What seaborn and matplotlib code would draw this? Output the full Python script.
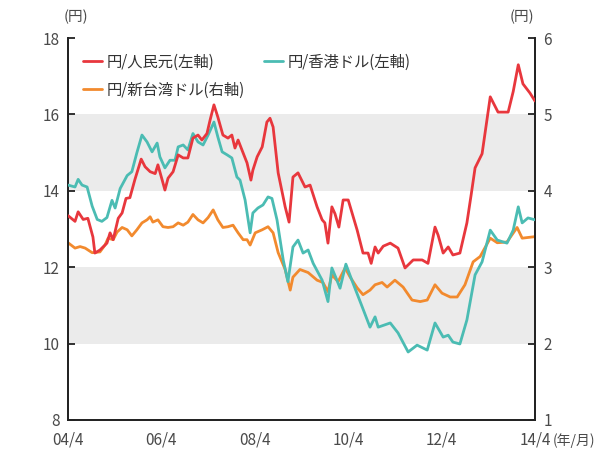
import numpy as np
import pandas as pd
import matplotlib
matplotlib.use("Agg")
import matplotlib.pyplot as plt
import seaborn as sns

# x values: months since 2004/4
cny_x = [0.0, 1.8, 2.6, 3.9, 5.1, 6.4, 6.9, 8.2, 10.0, 10.8, 11.6, 12.9, 13.9, 14.9, 15.9,
         17.2, 18.8, 19.8, 21.1, 22.4, 23.1, 24.2, 24.9, 25.7, 27.0, 28.3, 29.6, 30.8, 32.1,
         33.4, 34.4, 35.7, 36.5, 37.5, 38.5, 39.8, 41.1, 42.1, 42.9, 43.7, 45.0, 46.0, 47.0,
         47.5, 48.6, 49.9, 51.1, 51.9, 52.7, 54.0, 55.8, 56.8, 57.8, 59.1, 60.9, 62.2, 64.0,
         65.3, 66.0, 66.8, 67.8, 68.6, 69.6, 70.7, 72.0, 74.3, 75.8, 77.1, 77.9, 78.9, 79.7,
         81.0, 82.8, 84.8, 86.6, 88.7, 91.0, 92.5, 94.3, 95.1, 96.4, 97.7, 98.9, 100.7, 102.5,
         103.6, 104.6, 106.4, 108.5, 110.5, 113.1, 114.4, 115.7, 116.9, 118.7, 120.0]
cny_y = [13.35, 13.20, 13.45, 13.25, 13.28, 12.79, 12.37, 12.45, 12.63, 12.90, 12.72, 13.28,
         13.42, 13.80, 13.82, 14.30, 14.83, 14.63, 14.50, 14.45, 14.68, 14.28, 14.02, 14.33,
         14.50, 14.94, 14.86, 14.86, 15.38, 15.46, 15.33, 15.50, 15.85, 16.25, 15.93, 15.46,
         15.38, 15.46, 15.12, 15.33, 14.99, 14.73, 14.28, 14.54, 14.89, 15.15, 15.80, 15.90,
         15.67, 14.47, 13.58, 13.18, 14.36, 14.47, 14.10, 14.15, 13.58, 13.24, 13.16, 12.63,
         13.58, 13.40, 13.05, 13.76, 13.76, 12.97, 12.37, 12.37, 12.10, 12.53, 12.37, 12.55,
         12.63, 12.50, 11.98, 12.19, 12.19, 12.10, 13.05, 12.84, 12.37, 12.53, 12.32, 12.37,
         13.16, 13.90, 14.60, 14.97, 16.46, 16.06, 16.06, 16.60, 17.30, 16.80, 16.56, 16.35]

hkd_x = [0.0, 1.8, 2.6, 3.6, 4.9, 6.2, 7.5, 8.7, 10.0, 11.3, 12.1, 13.4, 15.2, 16.4, 17.7,
         19.0, 20.3, 21.6, 22.9, 23.6, 24.9, 26.2, 27.5, 28.3, 29.6, 30.8, 32.1, 33.4, 34.7,
         36.0, 37.5, 38.5, 39.6, 40.9, 42.1, 43.4, 44.2, 45.5, 46.8, 47.5, 48.8, 50.1, 51.4,
         52.4, 53.7, 55.3, 56.5, 57.8, 59.1, 60.4, 61.7, 63.0, 65.3, 66.8, 67.8, 69.1, 69.9,
         71.4, 73.2, 75.6, 77.6, 78.9, 79.7, 82.8, 84.8, 87.4, 89.7, 92.3, 94.3, 96.4, 97.7,
         98.9, 100.7, 102.5, 104.6, 106.4, 108.5, 110.3, 112.8, 114.4, 115.7, 116.7, 118.2, 120.0]
hkd_y = [14.15, 14.10, 14.30, 14.15, 14.10, 13.60, 13.25, 13.20, 13.30, 13.75, 13.55, 14.06,
         14.40, 14.50, 15.00, 15.46, 15.28, 15.02, 15.25, 14.89, 14.60, 14.80, 14.80, 15.15,
         15.20, 15.07, 15.50, 15.28, 15.20, 15.46, 15.80, 15.41, 15.02, 14.94, 14.86, 14.36,
         14.28, 13.76, 12.90, 13.42, 13.55, 13.63, 13.84, 13.80, 13.24, 12.19, 11.62, 12.53,
         12.71, 12.37, 12.45, 12.10, 11.66, 11.10, 11.98, 11.66, 11.45, 12.08, 11.59, 10.96,
         10.43, 10.70, 10.43, 10.54, 10.28, 9.78, 9.96, 9.83, 10.54, 10.17, 10.22, 10.04, 9.99,
         10.62, 11.80, 12.14, 12.97, 12.71, 12.63, 12.97, 13.58, 13.16, 13.29, 13.24]

twd_x = [0.0, 1.8, 3.1, 4.4, 6.2, 8.2, 9.5, 10.3, 11.6, 12.6, 13.9, 15.2, 16.4, 17.7, 19.0,
         20.3, 21.1, 21.8, 23.1, 24.4, 25.7, 27.0, 28.3, 29.6, 30.8, 32.1, 33.4, 34.7, 36.0,
         37.3, 38.5, 39.8, 41.1, 42.4, 43.7, 45.0, 46.0, 46.8, 48.1, 49.9, 51.4, 52.7, 54.0,
         55.8, 57.1, 57.8, 59.6, 61.7, 64.0, 65.5, 66.8, 67.8, 69.4, 71.2, 72.5, 74.3, 75.8,
         77.6, 78.9, 80.7, 82.0, 84.0, 86.1, 88.4, 90.5, 92.3, 94.3, 96.1, 98.2, 100.0, 102.0,
         104.1, 105.9, 108.5, 110.3, 112.8, 115.4, 116.7, 120.0]
twd_y = [3.32, 3.25, 3.27, 3.25, 3.19, 3.20, 3.29, 3.38, 3.36, 3.46, 3.52, 3.49, 3.41, 3.49,
         3.58, 3.62, 3.66, 3.59, 3.62, 3.53, 3.52, 3.53, 3.58, 3.55, 3.59, 3.69, 3.62, 3.58,
         3.65, 3.75, 3.62, 3.52, 3.53, 3.55, 3.45, 3.36, 3.36, 3.29, 3.45, 3.49, 3.53, 3.45,
         3.19, 2.97, 2.70, 2.87, 2.97, 2.93, 2.83, 2.80, 2.68, 2.90, 2.81, 2.99, 2.87, 2.73,
         2.64, 2.70, 2.77, 2.80, 2.74, 2.83, 2.74, 2.57, 2.55, 2.57, 2.77, 2.66, 2.61, 2.61,
         2.77, 3.07, 3.14, 3.38, 3.32, 3.33, 3.52, 3.38, 3.40]

x_ticks = [0, 24, 48, 72, 96, 120]
x_labels = ["04/4", "06/4", "08/4", "10/4", "12/4", "14/4"]
left_ticks = [8, 10, 12, 14, 16, 18]
right_ticks = [1, 2, 3, 4, 5, 6]
bands_right = [(2, 3), (4, 5)]   # shaded ranges, right-axis units (= 10-12, 14-16 left)

RED = "#e8373d"
TEAL = "#4bbcb3"
ORANGE = "#f28a2e"
TXT = "#4a4a4a"

sns.set_style("white")
plt.rcParams["font.family"] = ["Noto Sans CJK JP", "DejaVu Sans"]

fig = plt.figure(figsize=(6.09, 4.57), dpi=100)
ax = fig.add_axes([0.1117, 0.081, 0.7668, 0.8358])
ax2 = ax.twinx()

# shaded bands go on the lower axes so nothing is hidden
for lo, hi in bands_right:
    ax2.axhspan(lo, hi, color="#ebebeb", zorder=0, lw=0)

cny = pd.DataFrame({"m": cny_x, "v": cny_y})
hkd = pd.DataFrame({"m": hkd_x, "v": hkd_y})
twd = pd.DataFrame({"m": twd_x, "v": twd_y})

sns.lineplot(data=twd, x="m", y="v", ax=ax2, color=ORANGE, lw=2.0, estimator=None,
             label="円/新台湾ドル(右軸)", zorder=2)
sns.lineplot(data=hkd, x="m", y="v", ax=ax, color=TEAL, lw=2.0, estimator=None,
             label="円/香港ドル(左軸)", zorder=3)
sns.lineplot(data=cny, x="m", y="v", ax=ax, color=RED, lw=2.0, estimator=None,
             label="円/人民元(左軸)", zorder=4)

ax.set_zorder(ax2.get_zorder() + 1)
ax.patch.set_visible(False)

ax.set_xlim(0, 120)
ax.set_ylim(8, 18)
ax2.set_ylim(1, 6)
ax.set_xticks(x_ticks)
ax.set_xticklabels(x_labels)
ax.set_yticks(left_ticks)
ax2.set_yticks(right_ticks)
ax.set_xlabel("")
ax.set_ylabel("")
ax2.set_ylabel("")

for a in (ax, ax2):
    a.spines["top"].set_visible(False)
    for s in ("left", "right", "bottom"):
        a.spines[s].set_color("#222222")
        a.spines[s].set_linewidth(1.3)
    a.tick_params(direction="in", length=5, width=1.3, color="#222222",
                  labelsize=11, labelcolor=TXT)
ax.tick_params(axis="x", pad=8, length=4)
ax.tick_params(axis="y", pad=6)
ax2.tick_params(axis="y", pad=6)

h1, l1 = ax.get_legend_handles_labels()
h2, l2 = ax2.get_legend_handles_labels()
ax2.get_legend().remove()
ax.get_legend().remove()
# order so that rows read: 人民元, 香港ドル / 新台湾ドル
handles = [h1[1], h2[0], h1[0]]
labels = [l1[1], l2[0], l1[0]]
ax.legend(handles, labels, ncol=2, loc="upper left", bbox_to_anchor=(0.018, 0.975),
          frameon=False, fontsize=11, handlelength=1.3, handletextpad=0.3,
          columnspacing=1.2, labelspacing=0.7, borderaxespad=0)
for t in ax.get_legend().get_texts():
    t.set_color("#333333")

fig.text(0.125, 0.962, "(円)", ha="center", va="center", fontsize=10.5, color=TXT)
fig.text(0.857, 0.962, "(円)", ha="center", va="center", fontsize=10.5, color=TXT)
fig.text(0.907, 0.036, "(年/月)", ha="left", va="center", fontsize=10, color=TXT)

fig.savefig("out.png", dpi=100)
